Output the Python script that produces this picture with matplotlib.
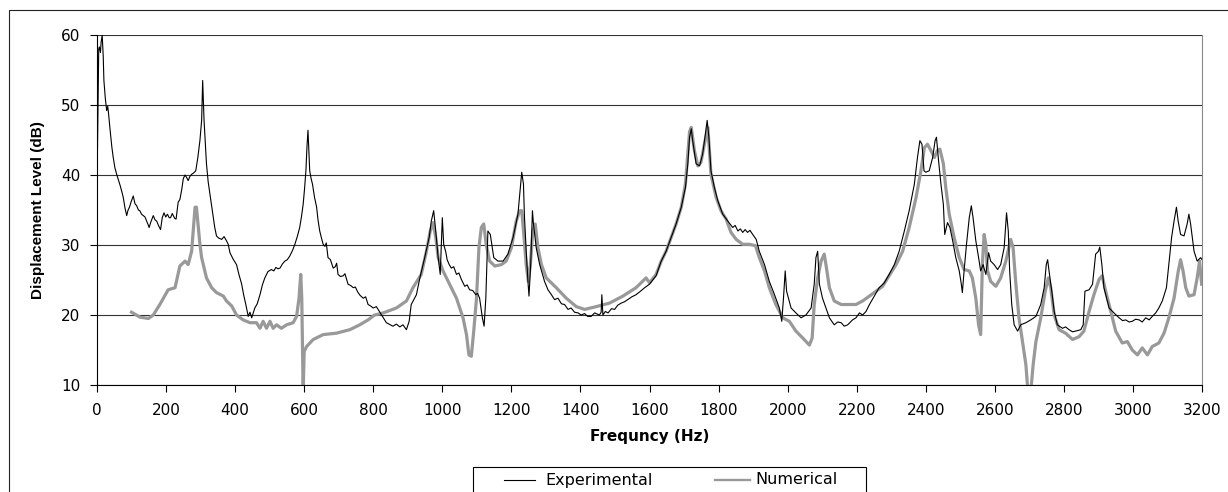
import matplotlib
matplotlib.use("Agg")
import matplotlib.pyplot as plt
from matplotlib.lines import Line2D
from matplotlib.patches import Rectangle

# =====================================================
# DATA
# =====================================================
exp_freq = [
    # 0 - 310 Hz
    1, 3, 5, 7, 10, 12, 15, 18, 20, 24, 28, 31, 33, 38, 43, 47, 52, 57, 62, 67,
    72, 76, 81, 86, 90, 94, 99, 105, 110, 115, 120, 124, 129, 134, 139, 144, 148, 151, 156, 163,
    168, 173, 178, 184, 189, 194, 199, 204, 209, 213, 218, 221, 225, 229, 235, 240, 245, 250, 255, 260,
    264, 269, 274, 280, 286, 292, 298, 303, 306, 310,
    # 317 - 800 Hz
    317, 322, 327, 332, 337, 341, 346, 352, 361, 368, 375, 380, 385, 394, 404, 411, 419, 425, 431, 438,
    443, 448, 452, 457, 464, 472, 479, 486, 495, 505, 512, 518, 524, 530, 537, 544, 551, 558, 566, 573,
    580, 587, 592, 597, 601, 605, 608, 611, 614, 616, 620, 624, 630, 636, 640, 645, 650, 655, 660, 664,
    669, 676, 684, 690, 694, 698, 705, 713, 718, 727, 735, 742, 748, 756, 762, 771, 778, 785, 792, 800,
    # 809 - 1590 Hz
    809, 824, 838, 857, 867, 877, 886, 896, 904, 910, 925, 935, 949, 962, 968, 975,
    981, 988, 994, 1000, 1004, 1010, 1014, 1020, 1026, 1033, 1041, 1048, 1055, 1060, 1065, 1072,
    1079, 1088, 1097, 1102, 1108, 1116, 1121, 1126, 1132, 1139, 1149, 1161, 1176, 1190, 1205, 1219,
    1226, 1230, 1235, 1238, 1243, 1248, 1251, 1256, 1261, 1264, 1272, 1282, 1296, 1306, 1316,
    1325, 1335, 1345, 1354, 1364, 1373, 1383, 1393, 1402, 1412, 1421, 1431, 1441,
    1455, 1460, 1462, 1465, 1472, 1480, 1490, 1499, 1508, 1518, 1528, 1537, 1549,
    1561, 1574, 1586,
    # 1600 - 2431 Hz
    1600, 1619, 1634, 1648, 1663, 1677, 1692, 1704, 1711, 1716, 1721, 1725, 1735,
    1745, 1754, 1762, 1767, 1772, 1778, 1788, 1798, 1812, 1827, 1841, 1848, 1856,
    1863, 1870, 1877, 1884, 1891, 1899, 1909, 1918, 1933, 1947, 1962, 1976, 1983,
    1988, 1993, 1997, 2010, 2024, 2039, 2053, 2068, 2077, 2082, 2087, 2092, 2101,
    2111, 2121, 2135, 2145, 2155, 2164, 2174, 2188, 2198, 2208, 2217, 2227, 2237,
    2251, 2265, 2280, 2294, 2309, 2323, 2338, 2352, 2367, 2376, 2383, 2389, 2395,
    2400, 2410, 2420, 2427, 2431,
    # 2437 - 3200 Hz
    2437, 2444, 2451, 2455, 2463, 2470, 2478, 2487, 2497, 2503, 2506, 2511, 2518,
    2526, 2532, 2537, 2545, 2553, 2559, 2566, 2574, 2582, 2588, 2598, 2608, 2617,
    2627, 2634, 2639, 2643, 2649, 2656, 2666, 2675, 2690, 2704, 2719, 2733, 2743,
    2749, 2753, 2757, 2765, 2772, 2781, 2796, 2805, 2815, 2825, 2834, 2849, 2856,
    2861, 2873, 2883, 2892, 2900, 2904, 2910, 2916, 2931, 2945, 2960, 2970, 2979,
    2989, 2998, 3008, 3018, 3027, 3037, 3047, 3056, 3066, 3075, 3085, 3097, 3104,
    3112, 3119, 3126, 3131, 3138, 3148, 3157, 3162, 3167, 3177, 3186, 3196, 3200,
]
exp_db = [
    42.1, 50.0, 58.0, 58.3, 57.5, 59.0, 60.0, 57.0, 53.5, 51.0, 49.2, 49.8, 49.0, 46.4, 44.0, 42.5, 41.0, 40.1, 39.3, 38.5,
    37.6, 36.8, 35.3, 34.2, 35.0, 35.4, 36.2, 37.0, 35.9, 35.6, 35.0, 34.9, 34.4, 34.2, 34.0, 33.4, 32.9, 32.5, 33.3, 34.2,
    33.6, 33.4, 32.8, 32.2, 33.9, 34.6, 34.0, 34.4, 33.9, 33.9, 34.5, 34.2, 33.8, 33.7, 36.1, 36.5, 37.8, 39.5, 40.0, 39.6,
    39.2, 39.8, 40.1, 40.3, 40.6, 42.5, 44.9, 47.8, 53.5, 47.8,
    41.6, 39.0, 37.3, 35.5, 33.9, 32.5, 31.3, 31.0, 30.8, 31.2, 30.6, 30.1, 28.9, 28.0, 27.2, 25.8, 24.4, 22.8, 21.5, 19.8,
    20.4, 19.6, 20.2, 21.0, 21.6, 22.9, 24.3, 25.3, 26.2, 26.5, 26.3, 26.8, 26.6, 26.7, 27.3, 27.7, 27.9, 28.4, 29.2, 30.1,
    31.2, 32.5, 34.0, 35.8, 38.0, 40.6, 44.0, 46.4, 43.0, 40.6, 39.5, 38.7, 36.8, 35.4, 33.6, 32.0, 31.0, 30.1, 29.8, 30.3,
    28.2, 27.9, 26.7, 26.9, 27.4, 25.8, 25.5, 25.6, 25.9, 24.4, 24.2, 23.9, 24.0, 23.2, 22.8, 22.4, 22.6, 21.5, 21.3, 21.0,
    21.2, 20.0, 18.9, 18.4, 18.7, 18.3, 18.6, 17.9, 19.1, 21.5, 22.9, 25.3, 28.2, 31.1, 33.4, 34.9,
    32.0, 28.2, 25.8, 33.9, 30.1, 29.0, 27.9, 27.2, 26.7, 26.9, 25.8, 26.0, 25.1, 24.6, 24.1, 24.3,
    23.6, 23.5, 22.9, 23.1, 22.4, 19.6, 18.4, 22.4, 32.0, 31.5, 28.2, 27.7, 27.7, 28.7, 31.1, 34.4,
    38.2, 40.4, 38.7, 33.9, 29.1, 24.8, 22.7, 27.2, 34.9, 33.0, 29.6, 27.2, 24.8, 23.6, 22.9,
    22.2, 22.4, 21.6, 21.5, 20.8, 21.0, 20.4, 20.3, 20.0, 20.2, 19.8, 19.8, 20.3,
    20.0, 20.4, 22.9, 20.0, 20.5, 20.3, 20.9, 20.8, 21.4, 21.7, 21.9, 22.2, 22.6,
    22.9, 23.4, 23.9,
    24.4, 25.6, 27.7, 29.1, 31.1, 33.0, 35.4, 38.2, 41.6, 45.4, 46.6, 44.9, 41.6,
    41.3, 43.0, 45.9, 47.8, 45.4, 40.6, 38.2, 36.3, 34.4, 33.4, 32.5, 32.8, 32.0,
    32.3, 31.8, 32.2, 31.8, 32.1, 31.5, 30.8, 29.1, 27.2, 24.8, 22.9, 21.0, 19.1,
    22.4, 26.3, 23.4, 21.0, 20.3, 19.6, 20.0, 21.0, 24.4, 28.2, 29.1, 24.4, 22.4,
    21.0, 19.6, 18.6, 19.0, 18.9, 18.4, 18.6, 19.3, 19.6, 20.3, 20.0, 20.5, 21.5,
    22.7, 23.9, 24.6, 25.8, 27.2, 29.1, 32.0, 34.9, 38.7, 42.5, 44.9, 44.4, 40.6,
    40.4, 40.6, 42.5, 44.9, 45.4,
    42.1, 38.7, 35.8, 31.5, 33.2, 32.5, 30.6, 28.2, 26.3, 24.4, 23.2, 26.3, 30.1,
    33.9, 35.6, 33.9, 30.6, 28.2, 26.3, 27.2, 25.8, 28.9, 27.7, 27.2, 26.5, 27.2,
    29.6, 34.6, 32.0, 26.3, 21.5, 18.6, 17.7, 18.6, 18.9, 19.3, 19.8, 21.5, 23.9,
    27.2, 27.9, 26.3, 23.4, 20.5, 18.6, 18.1, 18.3, 17.9, 17.6, 17.7, 17.9, 18.6,
    23.4, 23.6, 24.4, 28.7, 29.1, 29.7, 27.2, 23.9, 21.0, 20.3, 19.6, 19.2, 19.3,
    19.0, 19.1, 19.4, 19.3, 19.0, 19.6, 19.3, 19.8, 20.3, 21.0, 22.0, 23.9, 27.2,
    31.1, 33.4, 35.4, 33.4, 31.5, 31.3, 33.0, 34.4, 33.0, 29.1, 27.7, 28.2, 27.9,
]

num_freq = [
    100, 124, 149, 163, 182, 206, 226, 240, 255, 264, 274, 284, 288, 298, 303, 317,
    332, 346, 366, 375, 390, 404, 423, 443, 462, 472, 481, 491, 501, 510, 520, 534,
    549, 568, 578, 585, 590, 593, 595, 597, 600, 607, 626, 655, 693, 732, 761, 785,
    804, 829, 867, 896, 915, 939, 954, 965, 973, 981, 988, 1002, 1021, 1041, 1060,
    1070, 1077, 1084, 1091, 1099, 1106, 1113, 1120, 1127, 1137, 1152, 1171, 1185,
    1200, 1214, 1224, 1230, 1236, 1243, 1249, 1255, 1262, 1269, 1277, 1287, 1301,
    1330, 1359, 1388, 1412, 1446, 1484, 1523, 1561, 1590,
    1600, 1619, 1634, 1648, 1663, 1677, 1692, 1704, 1716, 1721, 1730, 1740, 1749,
    1759, 1769, 1778, 1793, 1807, 1822, 1836, 1851, 1870, 1889, 1907, 1918, 1933,
    1947, 1966, 1986, 2005, 2024, 2044, 2063, 2071, 2077, 2087, 2097, 2106, 2111,
    2121, 2135, 2155, 2179, 2198, 2217, 2237, 2256, 2275, 2294, 2314, 2333, 2352,
    2372, 2386, 2396, 2405, 2415, 2425, 2434, 2441, 2451, 2458, 2468, 2482, 2497,
    2511, 2526, 2535, 2545, 2553, 2559, 2564, 2569, 2574, 2579, 2588, 2603, 2617,
    2632, 2646, 2653, 2661, 2670, 2680, 2690, 2696, 2704, 2711, 2719, 2733, 2746,
    2755, 2762, 2772, 2786, 2805, 2825, 2844, 2858, 2873, 2887, 2902, 2911, 2921,
    2936, 2950, 2969, 2984, 2998, 3013, 3027, 3042, 3056, 3075, 3090, 3104, 3119,
    3131, 3138, 3145, 3153, 3162, 3177, 3186, 3193, 3199,
]
num_db = [
    20.4, 19.7, 19.5, 20.0, 21.5, 23.6, 23.9, 27.0, 27.7, 27.2, 29.1, 35.4, 35.4, 30.1, 28.2, 25.3,
    23.9, 23.2, 22.7, 22.0, 21.3, 20.0, 19.3, 18.9, 18.9, 18.1, 19.1, 18.1, 19.1, 18.1, 18.6, 18.1,
    18.6, 18.9, 19.8, 22.4, 25.8, 22.4, 15.7, 9.0, 14.8, 15.5, 16.5, 17.2, 17.4, 17.9, 18.6, 19.3,
    20.0, 20.3, 21.0, 22.0, 23.9, 25.8, 29.1, 32.0, 33.2, 31.1, 28.2, 26.3, 24.4, 22.4, 19.6,
    17.2, 14.3, 14.1, 17.7, 22.4, 29.6, 32.5, 33.0, 30.1, 27.7, 27.0, 27.2, 27.7,
    29.6, 33.4, 34.9, 34.9, 31.5, 27.2, 24.8, 27.2, 32.0, 33.0, 29.6, 27.2, 25.3,
    23.9, 22.4, 21.2, 20.8, 21.2, 21.7, 22.7, 23.9, 25.3,
    24.6, 25.8, 27.7, 29.1, 31.1, 33.0, 35.4, 38.7, 46.2, 46.8, 43.5, 41.3, 41.8,
    44.4, 46.8, 40.1, 36.8, 34.9, 33.7, 31.8, 30.8, 30.1, 30.1, 29.9, 28.2, 26.3,
    23.9, 21.5, 19.6, 19.1, 17.7, 16.7, 15.7, 16.7, 21.5, 25.3, 27.7, 28.7, 27.2,
    23.9, 22.0, 21.5, 21.5, 21.5, 22.0, 22.7, 23.4, 24.1, 25.6, 27.2, 29.1, 32.5,
    36.8, 40.6, 43.9, 44.4, 43.5, 42.5, 43.5, 43.7, 41.6, 38.2, 34.4, 31.1, 28.2,
    26.5, 26.3, 25.3, 22.4, 18.6, 17.2, 27.2, 31.5, 30.1, 26.3, 24.8, 24.1, 25.3,
    27.7, 30.8, 29.6, 24.4, 19.6, 16.2, 12.9, 9.0, 9.0, 12.9, 16.2, 19.6, 23.4,
    25.3, 23.9, 20.0, 17.9, 17.4, 16.5, 16.9, 17.7, 20.5, 22.9, 25.1, 25.6, 23.4,
    20.5, 17.7, 16.0, 16.2, 15.0, 14.3, 15.3, 14.3, 15.5, 16.0, 17.4, 19.6, 22.4,
    26.2, 27.9, 26.3, 23.9, 22.7, 22.9, 25.3, 27.7, 24.4,
]
assert len(exp_freq) == len(exp_db) and len(num_freq) == len(num_db)

x_ticks = list(range(0, 3201, 200))
y_ticks = [10, 20, 30, 40, 50, 60]

# =====================================================
# FIGURE
# =====================================================
W, H = 1228, 492
fig = plt.figure(figsize=(W / 100, H / 100), dpi=100)
ax = fig.add_axes([97 / W, 1 - 385 / H, 1105 / W, 350 / H])

def px(x, y):
    return x / W, 1 - y / H

# outer chart frame (cut by the image edges on the right and bottom)
fig.patches.append(Rectangle(px(9, 520), 1300 / W, 510 / H, transform=fig.transFigure,
                             fill=False, edgecolor="#222222", linewidth=0.8))

exp_line, = ax.plot(exp_freq, exp_db, color="black", linewidth=0.8, zorder=3)
num_line, = ax.plot(num_freq, num_db, color="#999999", linewidth=2.3, zorder=2)

ax.set_xlim(0, 3200)
ax.set_ylim(10, 60)
ax.set_xticks(x_ticks)
ax.set_yticks(y_ticks)
ax.yaxis.grid(True, color="#333333", linewidth=0.8)
ax.set_axisbelow(True)

ax.spines["top"].set_visible(False)
ax.spines["right"].set_color("#888888")
for s in ["left", "bottom"]:
    ax.spines[s].set_color("black")
    ax.spines[s].set_linewidth(0.8)

ax.tick_params(direction="out", length=5, width=0.8, labelsize=11, color="black")
ax.tick_params(axis="x", pad=8)
ax.tick_params(axis="y", pad=7)
for lab in ax.get_xticklabels() + ax.get_yticklabels():
    lab.set_family("DejaVu Sans")

ax.set_xlabel("Frequncy (Hz)", fontsize=11, fontweight="bold", family="DejaVu Sans")
ax.xaxis.set_label_coords(0.5, -0.125)
ax.set_ylabel("Displacement Level (dB)", fontsize=11, fontweight="bold",
              family="Liberation Sans")
ax.yaxis.set_label_coords(-0.047, 0.5)

# legend box (bottom part is cut off by the image edge, as in the reference)
fig.patches.append(Rectangle(px(473, 500), 393 / W, 33 / H, transform=fig.transFigure,
                             fill=False, edgecolor="black", linewidth=0.8))
for (x0, x1, tx), line, lw, label in [((504, 535, 545), exp_line, 0.8, "Experimental"),
                                      ((715, 750, 755), num_line, 1.7, "Numerical")]:
    (a, b), (c, _) = px(x0, 480), px(x1, 480)
    fig.lines.append(Line2D([a, c], [b, b], transform=fig.transFigure,
                            color=line.get_color(), linewidth=lw))
    fig.text(*px(tx, 480), label, fontsize=11.5, family="DejaVu Sans", va="center", ha="left")

fig.savefig("out.png", dpi=100)
